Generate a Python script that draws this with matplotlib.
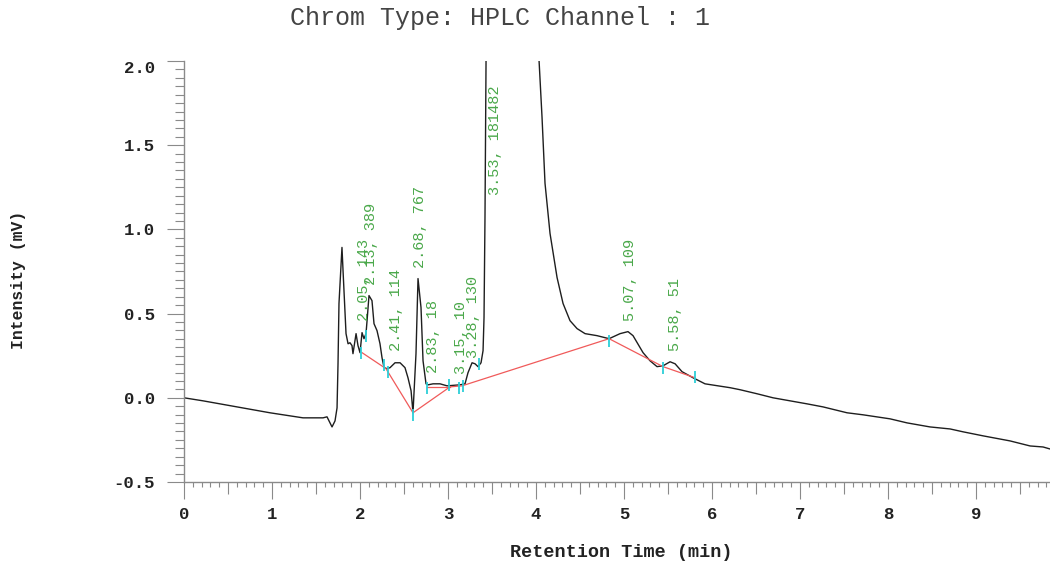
import matplotlib
matplotlib.use("Agg")
import matplotlib.pyplot as plt
from matplotlib.ticker import MultipleLocator

MONO = "Liberation Mono"

# chromatogram trace (min, mV)
time_min = [0.000, 0.216, 0.602, 0.977, 1.352, 1.580, 1.625, 1.682, 1.716, 1.739,
            1.750, 1.761, 1.795, 1.807, 1.841, 1.864, 1.886, 1.909, 1.920, 1.955,
            1.977, 2.000, 2.023, 2.045, 2.068, 2.080, 2.102, 2.136, 2.159, 2.193,
            2.227, 2.250, 2.273, 2.307, 2.341, 2.398, 2.455, 2.511, 2.545, 2.580,
            2.602, 2.636, 2.659, 2.693, 2.716, 2.750, 2.773, 2.830, 2.909, 2.989,
            3.136, 3.193, 3.227, 3.273, 3.307, 3.341, 3.375, 3.398, 3.409, 3.420,
            3.432, 3.530, 4.034, 4.068, 4.102, 4.159, 4.239, 4.307, 4.386, 4.466,
            4.557, 4.693, 4.830, 4.955, 5.045, 5.102, 5.216, 5.295, 5.375, 5.443,
            5.523, 5.580, 5.659, 5.784, 5.920, 6.068, 6.205, 6.318, 6.511, 6.693,
            6.886, 7.080, 7.261, 7.534, 7.716, 8.023, 8.216, 8.477, 8.705, 8.852,
            9.080, 9.386, 9.614, 9.761, 9.841]
intensity_mv = [0.000, -0.018, -0.054, -0.089, -0.119, -0.119, -0.113, -0.173, -0.137, -0.060,
                0.202, 0.560, 0.893, 0.756, 0.381, 0.321, 0.327, 0.310, 0.262, 0.381,
                0.310, 0.268, 0.387, 0.351, 0.381, 0.458, 0.607, 0.577, 0.440, 0.399,
                0.321, 0.238, 0.179, 0.173, 0.179, 0.208, 0.208, 0.179, 0.119, 0.042,
                -0.089, 0.262, 0.708, 0.536, 0.220, 0.083, 0.077, 0.083, 0.083, 0.071,
                0.077, 0.083, 0.149, 0.208, 0.202, 0.185, 0.208, 0.280, 0.476, 1.071,
                2.006, 20.0, 2.006, 1.667, 1.274, 0.976, 0.714, 0.560, 0.458, 0.411,
                0.381, 0.369, 0.351, 0.381, 0.393, 0.369, 0.268, 0.220, 0.185, 0.190,
                0.214, 0.202, 0.155, 0.119, 0.083, 0.071, 0.060, 0.048, 0.024, 0.000,
                -0.018, -0.036, -0.054, -0.089, -0.101, -0.125, -0.149, -0.173, -0.185, -0.202,
                -0.226, -0.256, -0.286, -0.292, -0.304]

# integration baselines
base_t = [2.023, 2.295, 2.602, 3.023, 3.159, 4.830, 5.443, 5.807]
base_v = [0.268, 0.173, -0.089, 0.065, 0.071, 0.351, 0.185, 0.119]
flat_t = [2.761, 3.023]
flat_v = [0.065, 0.065]

# peak start/end marks
mark_t = [2.011, 2.068, 2.273, 2.318, 2.602, 2.761, 3.011, 3.125, 3.170, 3.352,
          4.830, 5.443, 5.807]
mark_v = [0.268, 0.369, 0.196, 0.155, -0.101, 0.060, 0.077, 0.060, 0.071, 0.202,
          0.339, 0.179, 0.125]

# peak labels: retention time, area
peak_rt = [2.05, 2.13, 2.41, 2.68, 2.83, 3.15, 3.28, 3.53, 5.07, 5.58]
peak_area = [143, 389, 114, 767, 18, 10, 130, 181482, 109, 51]
label_y = [0.458, 0.667, 0.280, 0.768, 0.149, 0.143, 0.238, 1.202, 0.458, 0.280]

AXIS_GRAY = "#8a8a8a"

fig = plt.figure(figsize=(10.5, 5.67), dpi=100)
ax = fig.add_axes([184 / 1050, 85 / 567, 866 / 1050, 421 / 567])

ax.plot(time_min, intensity_mv, color="#1e1e1e", lw=1.0)
ax.plot(base_t, base_v, color="#f05a5a", lw=0.9)
ax.plot(flat_t, flat_v, color="#f05a5a", lw=0.9)
ax.plot(mark_t, mark_v, ls="none", marker="|", ms=9, mew=1.3, color="#2ccfd8")

for rt, area, y in zip(peak_rt, peak_area, label_y):
    ax.text(rt, y, f"{rt:.2f}, {area}", rotation=90, ha="center", va="bottom",
            family=MONO, fontsize=11, color="#4aa84a")

ax.set_xlim(0, 9.84)
ax.set_ylim(-0.5, 2.0)
ax.xaxis.set_major_locator(MultipleLocator(1))
ax.xaxis.set_minor_locator(MultipleLocator(0.1))
ax.yaxis.set_major_locator(MultipleLocator(0.5))
ax.yaxis.set_minor_locator(MultipleLocator(0.05))
ax.yaxis.set_major_formatter(plt.FuncFormatter(lambda v, p: f"{v:.1f}"))

for s in ["top", "right"]:
    ax.spines[s].set_visible(False)
for s in ["left", "bottom"]:
    ax.spines[s].set_color(AXIS_GRAY)
    ax.spines[s].set_linewidth(1.0)

ax.tick_params(axis="x", which="major", length=12, width=0.8, color=AXIS_GRAY, pad=6)
ax.tick_params(axis="x", which="minor", length=3.6, width=0.8, color=AXIS_GRAY)
ax.tick_params(axis="y", which="major", length=12, width=0.8, color=AXIS_GRAY, pad=9)
ax.tick_params(axis="y", which="minor", length=6.5, width=0.8, color=AXIS_GRAY)
ax.tick_params(labelsize=12.5, labelcolor="#222222")
for lab in ax.get_xticklabels() + ax.get_yticklabels():
    lab.set_family(MONO)
    lab.set_fontweight("bold")

# half-minute ticks are a bit longer
for loc, tick in zip(ax.xaxis.get_minorticklocs(), ax.xaxis.get_minor_ticks()):
    if abs(loc % 1 - 0.5) < 1e-6:
        tick.tick1line.set_markersize(8.6)

# top label sits just below its tick
ylocs = list(ax.yaxis.get_majorticklocs())
yticks = ax.yaxis.get_major_ticks(len(ylocs))
for loc, tick in zip(ylocs, yticks):
    if abs(loc - 2.0) < 1e-6:
        tick.label1.set_va("top")

ax.set_xlabel("Retention Time (min)", family=MONO, fontweight="bold", fontsize=13.3,
              color="#222222")
ax.xaxis.set_label_coords(0.505, -0.147)
ax.set_ylabel("Intensity (mV)", family=MONO, fontweight="bold", fontsize=11.8,
              color="#222222")
ax.yaxis.set_label_coords(-0.182, 0.48)

fig.text(500 / 1050, 1 - 18 / 567, "Chrom Type: HPLC Channel : 1", family=MONO,
         fontsize=18, color="#444444", ha="center", va="center")

fig.savefig("out.png", dpi=100)
